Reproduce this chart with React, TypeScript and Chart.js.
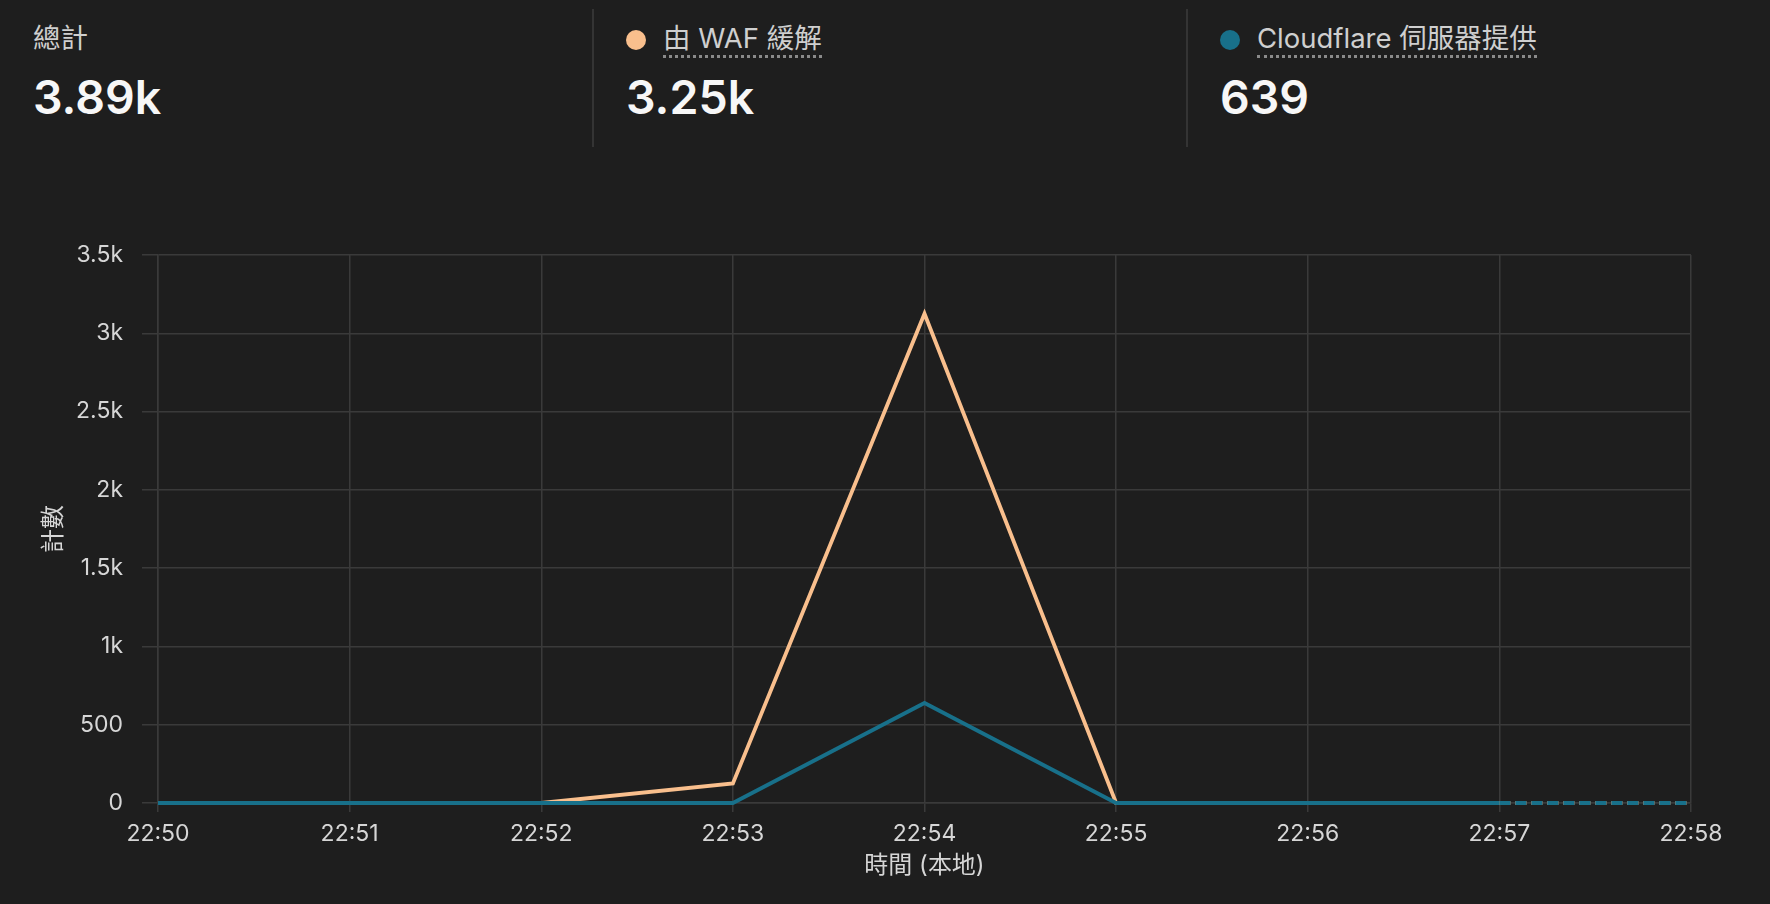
import { useEffect, useRef } from 'react';
import { Chart, registerables } from 'chart.js';

Chart.register(...registerables);

// Data
const timeLabels = ['22:50', '22:51', '22:52', '22:53', '22:54', '22:55', '22:56', '22:57', '22:58'];
const wafValues = [0, 0, 0, 125, 3125, 0, 0, 0, 0];
const cloudflareValues = [0, 0, 0, 0, 639, 0, 0, 0, 0];

const summaryLabels = ['總計', '由 WAF 緩解', 'Cloudflare 伺服器提供'];
const summaryValues = ['3.89k', '3.25k', '639'];

const ORANGE = '#f9bf8d';
const TEAL = '#18708a';
const GRID = '#3a3a3a';
const BG = '#1e1e1e';
const FONT = "Inter, 'Noto Sans CJK TC', sans-serif";

// last segment is a partial bucket, drawn dashed
const lastSegDash = (ctx: any) => (ctx.p0DataIndex === timeLabels.length - 2 ? [11, 5] : undefined);

function TrafficChart() {
  const canvasRef = useRef<HTMLCanvasElement>(null);
  const chartInstance = useRef<Chart | null>(null);

  useEffect(() => {
    if (!canvasRef.current) return;
    if (chartInstance.current) chartInstance.current.destroy();

    const ctx = canvasRef.current.getContext('2d');
    if (!ctx) return;

    chartInstance.current = new Chart(ctx, {
      type: 'line',
      data: {
        labels: timeLabels,
        datasets: [
          {
            label: summaryLabels[1],
            data: wafValues,
            borderColor: ORANGE,
            borderWidth: 3.8,
            pointRadius: 0,
            tension: 0,
            order: 1,
            clip: false,
            segment: { borderDash: lastSegDash },
          },
          {
            label: summaryLabels[2],
            data: cloudflareValues,
            borderColor: TEAL,
            borderWidth: 3.8,
            pointRadius: 0,
            tension: 0,
            order: 0,
            clip: false,
            segment: { borderDash: lastSegDash },
          },
        ],
      },
      options: {
        responsive: true,
        maintainAspectRatio: false,
        animation: false,
        layout: { padding: { top: 55, right: 79, bottom: 0, left: 0 } },
        plugins: {
          legend: { display: false },
          tooltip: { enabled: false },
        },
        scales: {
          x: {
            afterFit: (scale: any) => {
              scale.height = 101;
            },
            grid: { color: GRID, tickLength: 9, lineWidth: 1.5 },
            border: { color: GRID, width: 1.5 },
            ticks: { color: '#d6d6d6', font: { family: FONT, size: 23 }, padding: 8, maxRotation: 0 },
            title: {
              display: true,
              text: '時間 (本地)',
              color: '#d6d6d6',
              font: { family: FONT, size: 24 },
              padding: { top: 0, bottom: 23.5 },
            },
          },
          y: {
            min: 0,
            max: 3500,
            afterFit: (scale: any) => {
              scale.width = 158;
            },
            grid: { color: GRID, tickLength: 16, lineWidth: 1.5 },
            border: { color: GRID, width: 1.5 },
            ticks: {
              stepSize: 500,
              color: '#d6d6d6',
              font: { family: FONT, size: 23 },
              padding: 19,
              callback: (v: any) => (v >= 1000 ? `${v / 1000}k` : `${v}`),
            },
            title: {
              display: true,
              text: '計數',
              color: '#d6d6d6',
              font: { family: FONT, size: 24 },
              padding: { top: 39, bottom: 0 },
            },
          },
        },
      },
    });

    return () => {
      if (chartInstance.current) {
        chartInstance.current.destroy();
        chartInstance.current = null;
      }
    };
  }, []);

  return (
    <div style={{ position: 'absolute', left: 0, top: 200, width: 1770, height: 704 }}>
      <canvas ref={canvasRef} />
    </div>
  );
}

function SummaryItem({ left, label, value, dot }: { left: number; label: string; value: string; dot?: string }) {
  return (
    <div style={{ position: 'absolute', left, top: 0 }}>
      <div style={{ display: 'flex', alignItems: 'center', height: 80 }}>
        {dot && (
          <span
            style={{
              width: 20,
              height: 20,
              borderRadius: '50%',
              background: dot,
              marginRight: 17,
              display: 'inline-block',
            }}
          />
        )}
        <span
          style={{
            fontSize: 27.5,
            color: '#cfcfcf',
            lineHeight: '32px',
            paddingBottom: 1,
            whiteSpace: 'nowrap',
            borderBottom: dot ? '3px dotted #8a8a8a' : '3px solid transparent',
          }}
        >
          {label}
        </span>
      </div>
      <div
        style={{
          position: 'absolute',
          top: 67,
          left: 0,
          fontSize: 46.5,
          fontWeight: 600,
          color: '#f7f7f7',
          lineHeight: '60px',
          whiteSpace: 'nowrap',
        }}
      >
        {value}
      </div>
    </div>
  );
}

export default function App() {
  return (
    <div style={{ position: 'fixed', inset: 0, background: BG, fontFamily: FONT, overflow: 'hidden' }}>
      <SummaryItem left={33} label={summaryLabels[0]} value={summaryValues[0]} />
      <div style={{ position: 'absolute', left: 592, top: 9, width: 2, height: 138, background: '#343434' }} />
      <SummaryItem left={626} label={summaryLabels[1]} value={summaryValues[1]} dot={ORANGE} />
      <div style={{ position: 'absolute', left: 1186, top: 9, width: 2, height: 138, background: '#343434' }} />
      <SummaryItem left={1220} label={summaryLabels[2]} value={summaryValues[2]} dot={TEAL} />
      <TrafficChart />
    </div>
  );
}
